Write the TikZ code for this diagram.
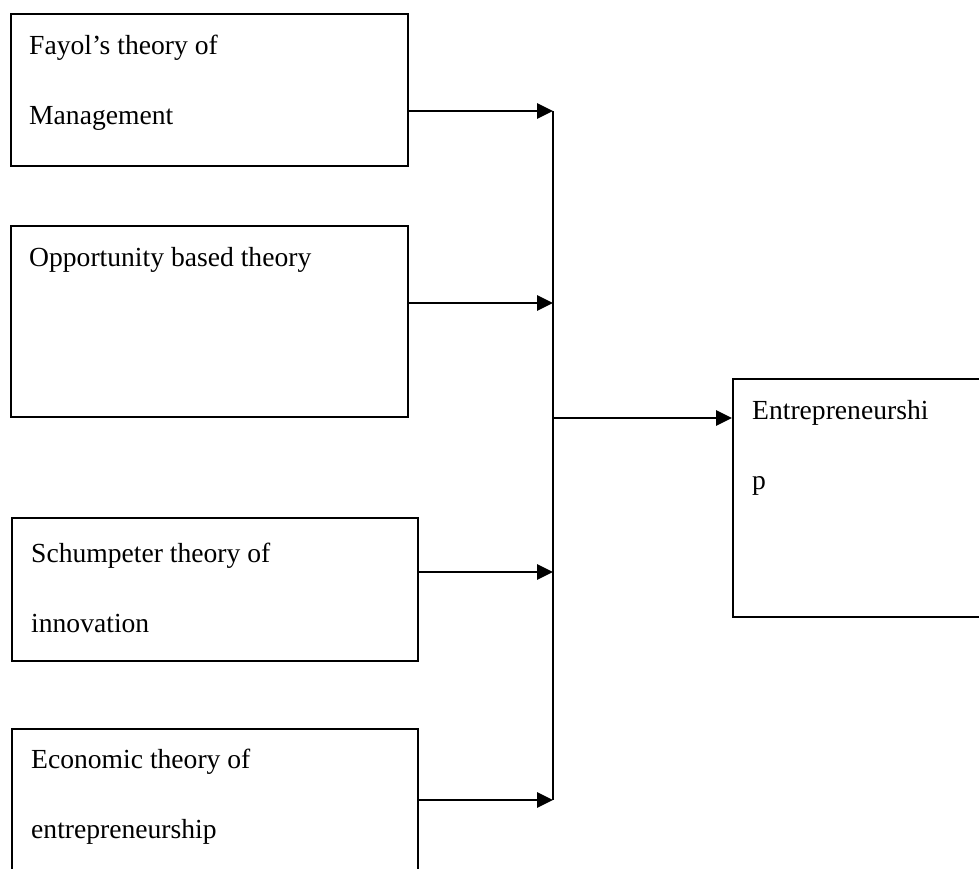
\documentclass[tikz,border=0pt]{standalone}
\usepackage{fontspec}
\setmainfont{Liberation Serif}
\usetikzlibrary{arrows.meta}

\begin{document}
\begin{tikzpicture}[x=1pt, y=-1pt,
    box/.style={draw, line width=1.7pt, anchor=north west, inner sep=0pt},
    txt/.style={anchor=north west, align=left, inner sep=0pt,
      font=\fontsize{27.6pt}{70pt}\selectfont},
    arr/.style={line width=2.8pt, -{Triangle[length=16pt, width=15pt]}}]
    \useasboundingbox (0,0) rectangle (979,868);
    % theory boxes
    \node[box, minimum width=397pt, minimum height=152pt] (fayol) at (10,13) {};
    \node[box, minimum width=397pt, minimum height=191pt] (opp) at (10,225) {};
    \node[box, minimum width=406pt, minimum height=143pt] (schum) at (11,517) {};
    \node[box, minimum width=406pt, minimum height=160pt] (econ) at (11,728) {};
    \node[box, minimum width=260pt, minimum height=238pt] (ent) at (732,378) {};
    \node[txt] (fayolt) at ([xshift=19pt, yshift=-22pt]fayol.north west) {Fayol’s theory of\\Management};
    \node[txt] (oppt) at ([xshift=19pt, yshift=-22pt]opp.north west) {Opportunity based theory};
    \node[txt] (schumt) at ([xshift=20pt, yshift=-26pt]schum.north west) {Schumpeter theory of\\innovation};
    \node[txt] (econt) at ([xshift=20pt, yshift=-21pt]econ.north west) {Economic theory of\\entrepreneurship};
    \node[txt] (entt) at ([xshift=20pt, yshift=-22pt]ent.north west) {Entrepreneurshi\\p};
    % junction points on the bus
    \coordinate (j1) at (553,111);
    \coordinate (j2) at (553,303);
    \coordinate (j3) at (553,572);
    \coordinate (j4) at (553,800);
    \coordinate (jm) at (553,418);
    \draw[arr] (j1 -| fayol.east) -- (j1);
    \draw[arr] (j2 -| opp.east) -- (j2);
    \draw[arr] (j3 -| schum.east) -- (j3);
    \draw[arr] (j4 -| econ.east) -- (j4);
    \draw[line width=1.8pt] (j1) -- (j4);
    \draw[arr] (jm) -- (jm -| ent.west);
\end{tikzpicture}
\end{document}
